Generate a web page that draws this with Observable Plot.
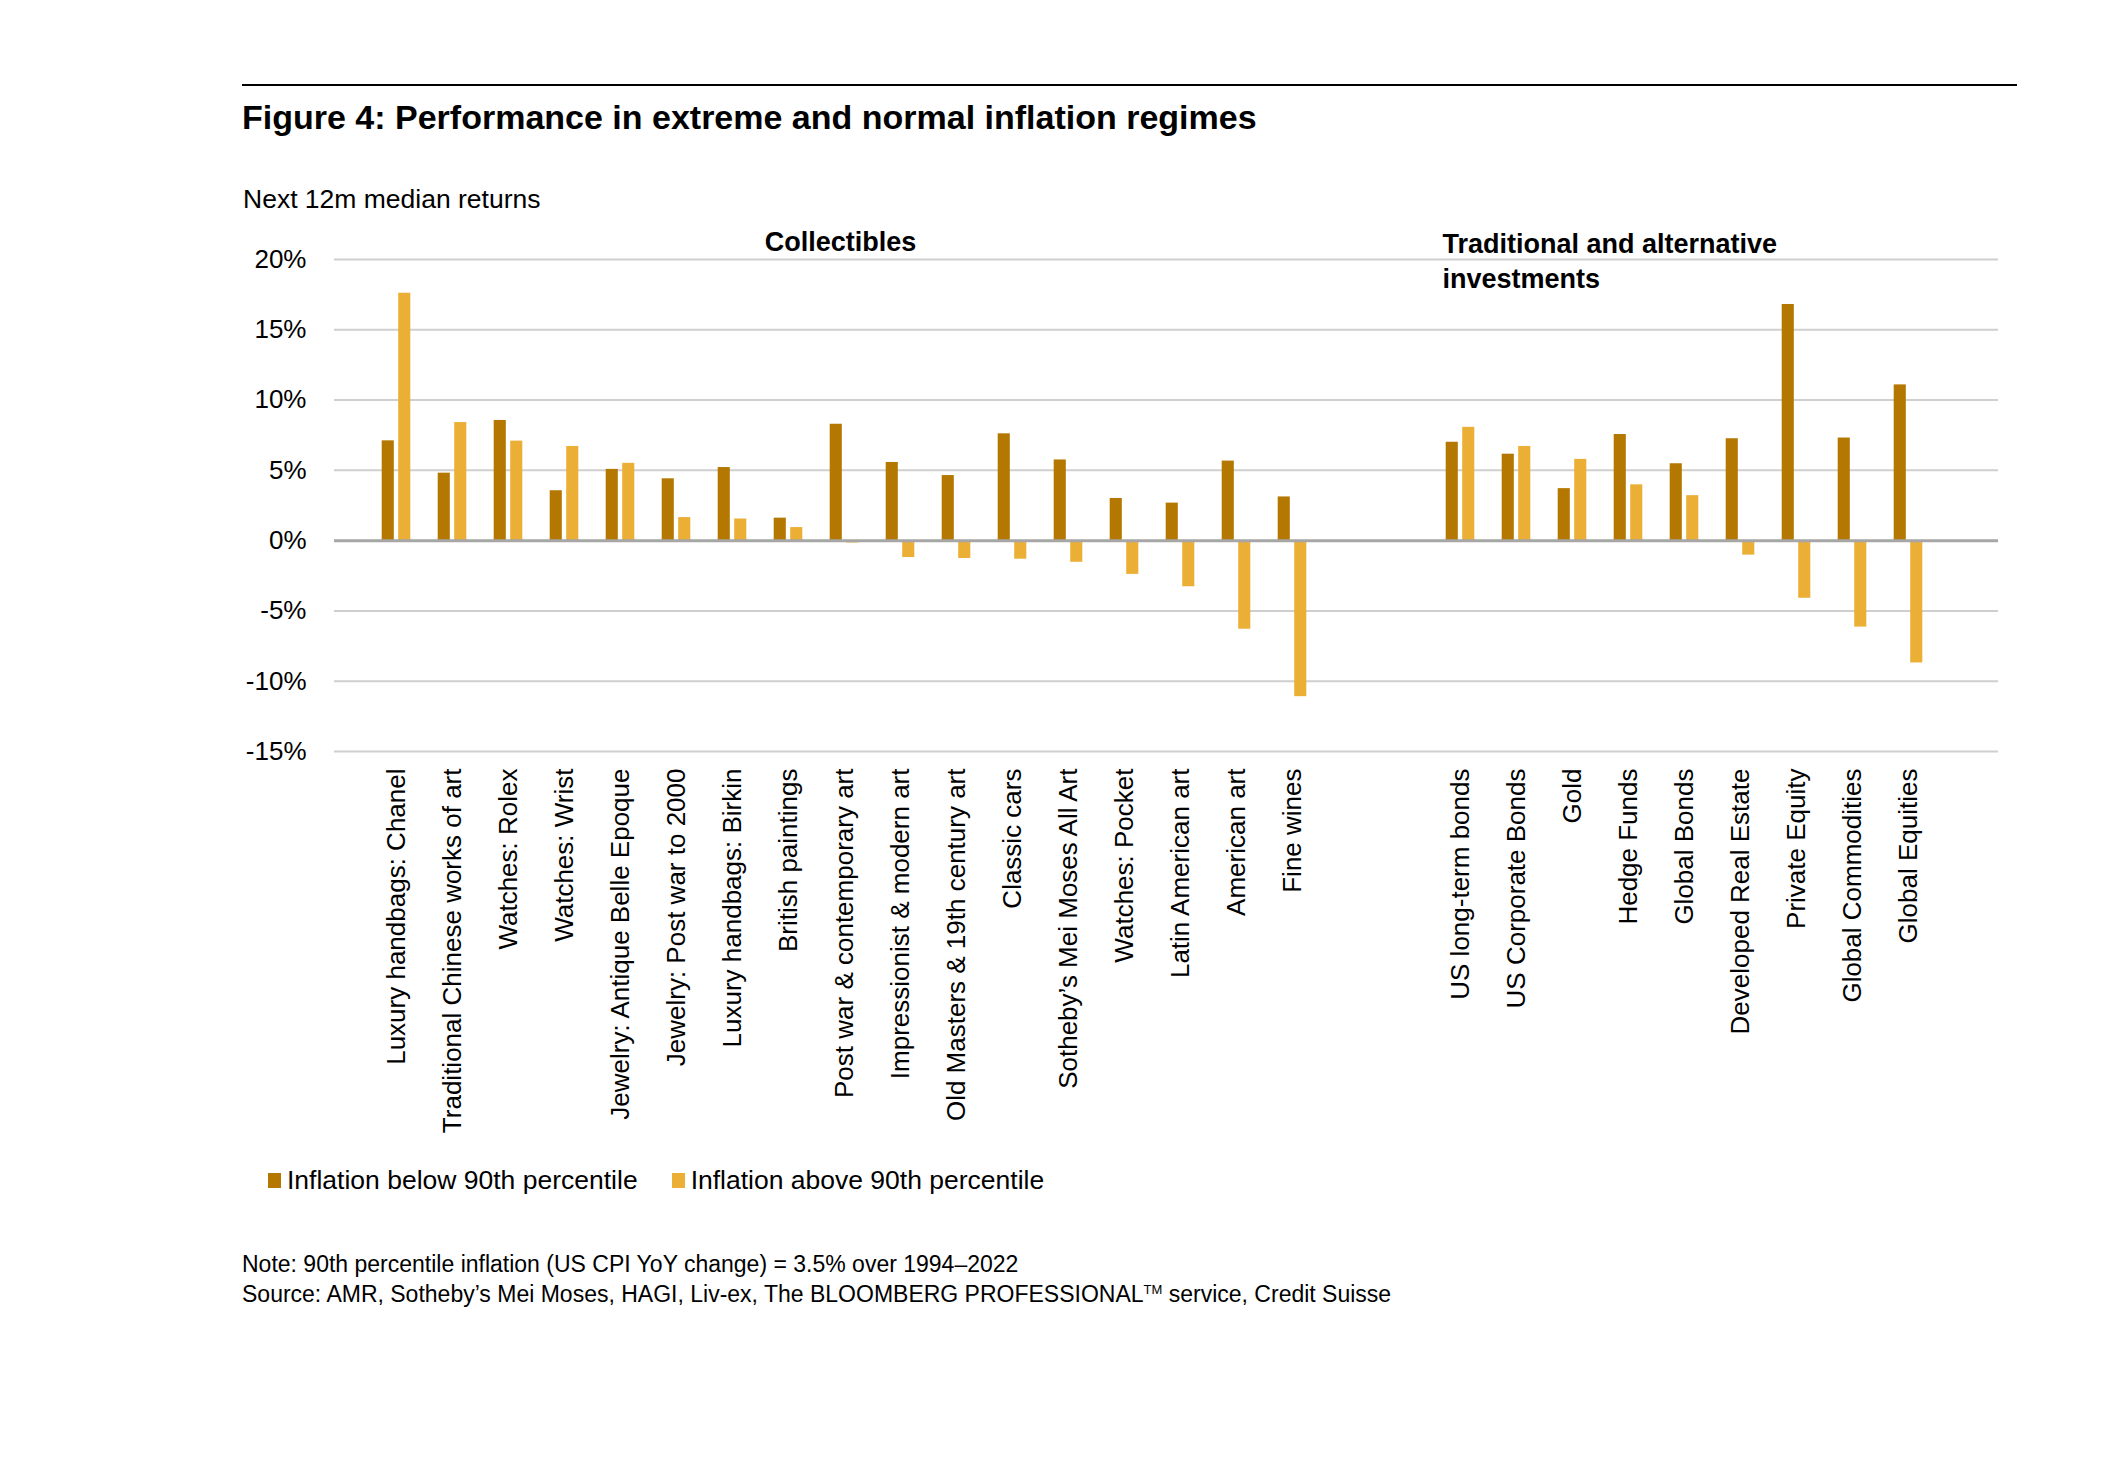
<!DOCTYPE html>
<html>
<head>
<meta charset="utf-8">
<script src="https://cdn.jsdelivr.net/npm/d3@7"></script>
<script src="https://cdn.jsdelivr.net/npm/@observablehq/plot@0.6"></script>
<style>
  body { margin: 0; background: #fff; font-family: "Liberation Sans", Arial, Helvetica, sans-serif; color: #000; }
  #page { width: 2106px; padding-top: 84px; }
  .rule { margin-left: 242px; width: 1775px; border-top: 2px solid #000; }
  h1 { margin: 11px 0 0 242px; font-size: 34px; line-height: 40px; font-weight: bold; }
  .sub { margin: 47px 0 0 243px; font-size: 26.5px; line-height: 30px; }
  #chart svg { display: block; }
  .legend { margin: 15px 0 0 268px; font-size: 26.5px; line-height: 30px; display: flex; align-items: center; }
  .legend .item { display: flex; align-items: center; margin-right: 34px; }
  .legend .sw { width: 13px; height: 15px; margin-right: 6px; }
  .notes { margin: 55px 0 0 242px; font-size: 23px; line-height: 29.5px; }
  .notes .tm { font-size: 13px; position: relative; top: -8px; line-height: 0; }
</style>
</head>
<body>
<div id="page">
  <div class="rule"></div>
  <h1>Figure 4: Performance in extreme and normal inflation regimes</h1>
  <div class="sub">Next 12m median returns</div>
  <div id="chart"></div>
  <div class="legend" id="legend"></div>
  <div class="notes">Note: 90th percentile inflation (US CPI YoY change) = 3.5% over 1994–2022<br>Source: AMR, Sotheby’s Mei Moses, HAGI, Liv-ex, The BLOOMBERG PROFESSIONAL<span class="tm">TM</span> service, Credit Suisse</div>
</div>
<script>
// ---- Data ----
const collectibles = [
  "Luxury handbags: Chanel", "Traditional Chinese works of art", "Watches: Rolex", "Watches: Wrist",
  "Jewelry: Antique Belle Epoque", "Jewelry: Post war to 2000", "Luxury handbags: Birkin", "British paintings",
  "Post war & contemporary art", "Impressionist & modern art", "Old Masters & 19th century art", "Classic cars",
  "Sotheby’s Mei Moses All Art", "Watches: Pocket", "Latin American art", "American art", "Fine wines"
];
const collectiblesBelow = [7.1, 4.8, 8.55, 3.55, 5.07, 4.4, 5.2, 1.6, 8.28, 5.56, 4.63, 7.6, 5.74, 3.0, 2.67, 5.66, 3.11];
const collectiblesAbove = [17.6, 8.4, 7.08, 6.7, 5.5, 1.64, 1.54, 0.93, -0.17, -1.2, -1.27, -1.32, -1.54, -2.4, -3.28, -6.3, -11.1];

const traditional = [
  "US long-term bonds", "US Corporate Bonds", "Gold", "Hedge Funds", "Global Bonds",
  "Developed Real Estate", "Private Equity", "Global Commodities", "Global Equities"
];
const traditionalBelow = [7.0, 6.15, 3.7, 7.55, 5.47, 7.25, 16.8, 7.3, 11.08];
const traditionalAbove = [8.06, 6.7, 5.78, 3.97, 3.2, -1.03, -4.1, -6.15, -8.7];

const gaps = ["gap1", "gap2"];
const seriesNames = ["Inflation below 90th percentile", "Inflation above 90th percentile"];
const seriesColors = ["#b47800", "#ecaf36"];
const yTicks = [-15, -10, -5, 0, 5, 10, 15, 20];
const groupTitles = ["Collectibles", "Traditional and alternative\ninvestments"];

// ---- Table ----
const domain = [...collectibles, ...gaps, ...traditional];
const rows = [];
collectibles.forEach((c, i) => {
  rows.push({category: c, series: seriesNames[0], value: collectiblesBelow[i]});
  rows.push({category: c, series: seriesNames[1], value: collectiblesAbove[i]});
});
traditional.forEach((c, i) => {
  rows.push({category: c, series: seriesNames[0], value: traditionalBelow[i]});
  rows.push({category: c, series: seriesNames[1], value: traditionalAbove[i]});
});

const chart = Plot.plot({
  width: 2106,
  height: 936,
  marginLeft: 334,
  marginRight: 108,
  marginTop: 45,
  marginBottom: 399,
  style: {fontFamily: '"Liberation Sans", Arial, Helvetica, sans-serif', fontSize: "26px", color: "#000", background: "#fff", overflow: "visible"},
  x: {
    type: "band",
    domain,
    paddingInner: 0,
    paddingOuter: 0.75,
    align: 0.35,
    label: null,
    tickSize: 0,
    tickPadding: 17,
    tickRotate: -90,
    tickFormat: d => gaps.includes(d) ? "" : d
  },
  y: {
    domain: [-15, 20],
    ticks: yTicks,
    tickFormat: d => `${d}%`,
    tickSize: 0,
    tickPadding: 28,
    label: null
  },
  color: {domain: seriesNames, range: seriesColors},
  marks: [
    Plot.ruleY(yTicks.filter(d => d !== 0), {stroke: "#cfcfcf", strokeWidth: 2}),
    Plot.barY(rows.filter(d => d.series === seriesNames[0]), {
      x: "category", y: "value", fill: "series", insetLeft: 13.7, insetRight: 30.2
    }),
    Plot.barY(rows.filter(d => d.series === seriesNames[1]), {
      x: "category", y: "value", fill: "series", insetLeft: 30.2, insetRight: 13.7
    }),
    Plot.ruleY([0], {stroke: "#a6a6a6", strokeWidth: 3}),
    Plot.text([groupTitles[0]], {
      x: () => collectibles[8], frameAnchor: "top", lineAnchor: "middle", dy: -17, dx: -4,
      text: d => d, fontWeight: "bold", fontSize: 27, textAnchor: "middle", fill: "#000"
    }),
    Plot.text([groupTitles[1]], {
      x: () => traditional[0], frameAnchor: "top", lineAnchor: "middle", dy: 0, dx: -18,
      text: d => d, fontWeight: "bold", fontSize: 27, textAnchor: "start", lineHeight: 1.3, fill: "#000"
    })
  ]
});
document.getElementById("chart").appendChild(chart);

const legend = document.getElementById("legend");
seriesNames.forEach((name, i) => {
  const item = document.createElement("div");
  item.className = "item";
  const sw = document.createElement("span");
  sw.className = "sw";
  sw.style.background = seriesColors[i];
  const label = document.createElement("span");
  label.textContent = name;
  item.appendChild(sw);
  item.appendChild(label);
  legend.appendChild(item);
});
</script>
</body>
</html>
